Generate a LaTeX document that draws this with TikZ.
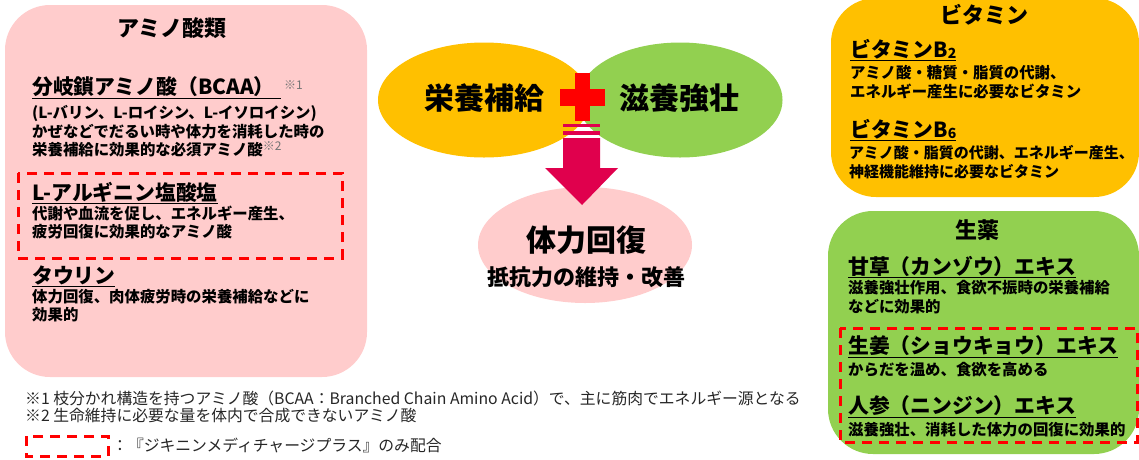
\documentclass[tikz,border=0pt]{standalone}
\usepackage{fontspec}
\setmainfont{Noto Sans CJK JP}
\usetikzlibrary{shapes.geometric}

\definecolor{aminopink}{HTML}{FFCCCC}
\definecolor{vitaminorange}{HTML}{FFC000}
\definecolor{herbgreen}{HTML}{92D050}
\definecolor{arrowred}{HTML}{E0004D}
\definecolor{onlyred}{HTML}{FF0000}

\tikzset{
  groupbox/.style={rounded corners=45pt},
  onlybox/.style={draw=onlyred, line width=3pt, dash pattern=on 10pt off 7pt},
  cattitle/.style={inner sep=0pt, font=\fontsize{22}{26}\selectfont\bfseries},
  itemtitle/.style={anchor=west, inner sep=0pt, font=\fontsize{20.8}{24}\selectfont\bfseries},
  itemtext/.style={anchor=north west, inner sep=0pt, align=left,
    font=\fontsize{15.4}{18.5}\selectfont\bfseries},
  notetext/.style={anchor=west, inner sep=0pt, font=\fontsize{15.8}{18}\selectfont, text=black!85},
  blob/.style={ellipse, inner sep=0pt}
}
\newcommand{\refmark}[1]{\raisebox{5pt}{\textcolor{black!55}{\fontsize{12}{12}\selectfont\mdseries #1}}}
\newcommand{\subnum}[1]{\raisebox{-1pt}{\fontsize{14}{14}\selectfont #1}}

\begin{document}
\begin{tikzpicture}[x=1pt,y=-1pt]
  \useasboundingbox (0,0) rectangle (1139,459);
  \clip (0,0) rectangle (1139,459);

  % Aminosaeuren
  \fill[aminopink, groupbox] (5,5) rectangle (367,377);
  \node[cattitle] (aminotitle) at (172,28) {アミノ酸類};
  \node[itemtitle] (bcaa) at (32,88) {\underline{分岐鎖アミノ酸（BCAA）\hspace*{6pt}}\,\refmark{※1}};
  \node[itemtext] (bcaatext) at (32,105.5)
    {(L-バリン、L-ロイシン、L-イソロイシン)\\
     かぜなどでだるい時や体力を消耗した時の\\
     栄養補給に効果的な必須アミノ酸\refmark{※2}};
  \draw[onlybox] (18,173) rectangle (342,258);
  \node[itemtitle] (arginin) at (32,193) {\underline{L-アルギニン塩酸塩}};
  \node[itemtext] (arginintext) at (32,205.5)
    {代謝や血流を促し、エネルギー産生、\\
     疲労回復に効果的なアミノ酸};
  \node[itemtitle] (taurin) at (32,276) {\underline{タウリン}};
  \node[itemtext] (taurintext) at (32,289)
    {体力回復、肉体疲労時の栄養補給などに\\
     効果的};

  % Mitte
  \node[blob, fill=vitaminorange, minimum width=212pt, minimum height=115pt] (eiyo) at (484,100) {};
  \node[blob, fill=herbgreen, minimum width=205pt, minimum height=115pt] (jiyo) at (680,100) {};
  \node[font=\fontsize{30}{30}\selectfont\bfseries] (eiyotext) at (484,98) {栄養補給};
  \node[font=\fontsize{30}{30}\selectfont\bfseries] (jiyotext) at (679,98) {滋養強壮};
  \fill[onlyred] (560,89) rectangle (605,106);
  \fill[onlyred] (575,73) rectangle (590,121);
  \node[blob, fill=aminopink, minimum width=214pt, minimum height=116pt] (kaifuku) at (585,245) {};
  \node[font=\fontsize{30}{30}\selectfont\bfseries] (kaifukutext) at (586,240) {体力回復};
  \node[font=\fontsize{22}{22}\selectfont\bfseries] (teiko) at (586,277) {抵抗力の維持・改善};
  % Pfeil
  \fill[arrowred] (563,124) rectangle (600,126.5);
  \fill[arrowred] (563,131) rectangle (600,135);
  \fill[arrowred] (563,138) -- (600,138) -- (600,168) -- (618,168)
    -- (582,205) -- (545,168) -- (563,168) -- cycle;

  % Vitamine
  \fill[vitaminorange, groupbox] (831,-2) rectangle (1139,197);
  \node[cattitle] (vitamintitle) at (984,15) {ビタミン};
  \node[itemtitle] (b2) at (850,50) {\underline{ビタミンB\subnum{2}}};
  \node[itemtext] (b2text) at (850,65.5)
    {アミノ酸・糖質・脂質の代謝、\\
     エネルギー産生に必要なビタミン};
  \node[itemtitle] (b6) at (850,130) {\underline{ビタミンB\subnum{6}}};
  \node[itemtext, font=\fontsize{15}{18.5}\selectfont\bfseries] (b6text) at (849,145.5)
    {アミノ酸・脂質の代謝、エネルギー産生、\\
     神経機能維持に必要なビタミン};

  % Shoyaku
  \fill[herbgreen, groupbox] (828,211) rectangle (1139,454);
  \node[cattitle] (herbtitle) at (977,230) {生薬};
  \node[itemtitle] (kanzo) at (848,267) {\underline{甘草（カンゾウ）エキス}};
  \node[itemtext] (kanzotext) at (848,280.5)
    {滋養強壮作用、食欲不振時の栄養補給\\
     などに効果的};
  \draw[onlybox] (840,328) rectangle (1137,442);
  \node[itemtitle] (shokyo) at (848,347) {\underline{生姜（ショウキョウ）エキス}};
  \node[itemtext] (shokyotext) at (848,362.5) {からだを温め、食欲を高める};
  \node[itemtitle] (ninjin) at (848,407) {\underline{人参（ニンジン）エキス}};
  \node[itemtext] (ninjintext) at (848,422.5) {滋養強壮、消耗した体力の回復に効果的};

  % Fussnoten
  \node[notetext] (note1) at (25,398)
    {※1 枝分かれ構造を持つアミノ酸（BCAA：Branched Chain Amino Acid）で、主に筋肉でエネルギー源となる};
  \node[notetext] (note2) at (25,416) {※2 生命維持に必要な量を体内で合成できないアミノ酸};
  \draw[onlybox] (26,436) rectangle (108,456);
  \node[notetext] (legend) at (112,445) {：『ジキニンメディチャージプラス』のみ配合};
\end{tikzpicture}
\end{document}
